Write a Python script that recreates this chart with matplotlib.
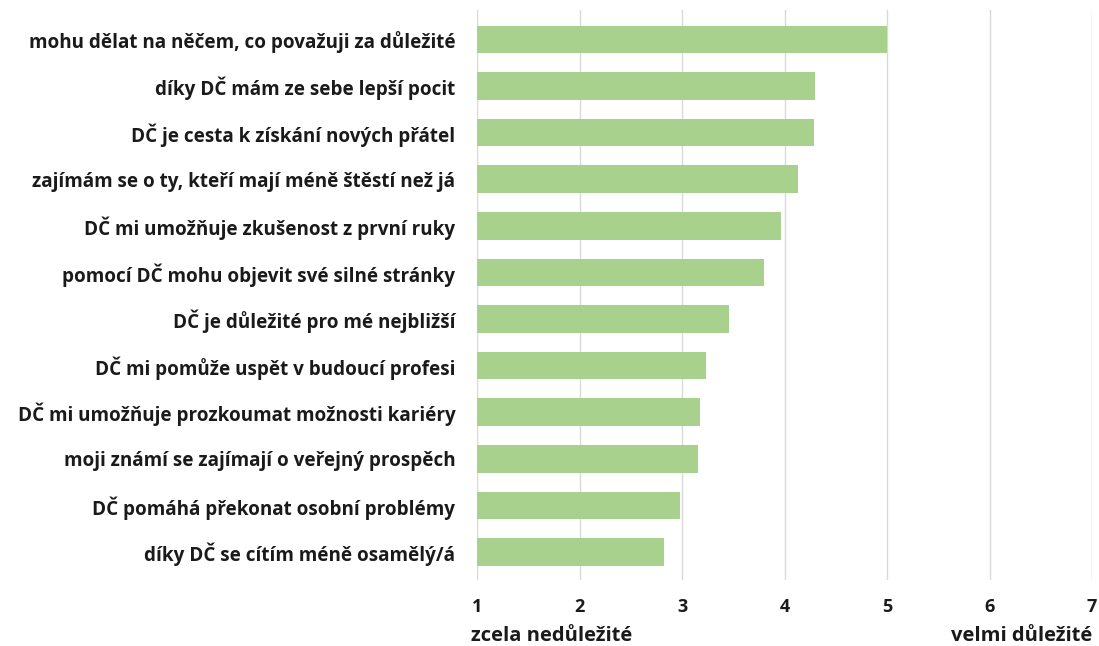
"""
Motivace k dobrovolnictví: průměrná důležitost (1-7), vodorovný pruhový graf.
"""
import matplotlib
matplotlib.use("Agg")
import matplotlib.pyplot as plt

categories = [
    "mohu dělat na něčem, co považuji za důležité",
    "díky DČ mám ze sebe lepší pocit",
    "DČ je cesta k získání nových přátel",
    "zajímám se o ty, kteří mají méně štěstí než já",
    "DČ mi umožňuje zkušenost z první ruky",
    "pomocí DČ mohu objevit své silné stránky",
    "DČ je důležité pro mé nejbližší",
    "DČ mi pomůže uspět v budoucí profesi",
    "DČ mi umožňuje prozkoumat možnosti kariéry",
    "moji známí se zajímají o veřejný prospěch",
    "DČ pomáhá překonat osobní problémy",
    "díky DČ se cítím méně osamělý/á",
]
values = [5.00, 4.30, 4.29, 4.13, 3.97, 3.80, 3.46, 3.23, 3.18, 3.16, 2.98, 2.82]
x_ticks = [1, 2, 3, 4, 5, 6, 7]

plt.rcParams["font.family"] = ["Open Sans", "DejaVu Sans"]

fig = plt.figure(figsize=(10.99, 6.46), dpi=100)
ax = fig.add_axes([477 / 1099, 66 / 646, 615 / 1099, 570 / 646])

y = range(len(categories))
ax.barh(y, [v - 1 for v in values], left=1, height=0.59, color="#A9D18E")

ax.set_xlim(1, 7)
ax.set_ylim(len(categories) - 0.4, -0.63)
ax.set_xticks(x_ticks)
ax.set_xticklabels([str(t) for t in x_ticks], fontsize=13, fontweight="bold")
ax.set_yticks(list(y))
ax.set_yticklabels(categories, fontsize=13.6, fontweight="bold")
ax.tick_params(axis="both", length=0, colors="#1a1a1a")
ax.tick_params(axis="x", pad=13)
ax.tick_params(axis="y", pad=15.5)

ax.grid(axis="x", color="#D9D9D9", linewidth=1)
ax.set_axisbelow(True)
for s in ax.spines.values():
    s.set_visible(False)

fig.text(471 / 1099, 1 - 636 / 646, "zcela nedůležité", fontsize=14.5, fontweight="bold",
         ha="left", va="center", color="#1a1a1a")
fig.text(1092 / 1099, 1 - 636 / 646, "velmi důležité", fontsize=14.5, fontweight="bold",
         ha="right", va="center", color="#1a1a1a")

fig.savefig("out.png", dpi=100, facecolor="white")
plt.close(fig)
